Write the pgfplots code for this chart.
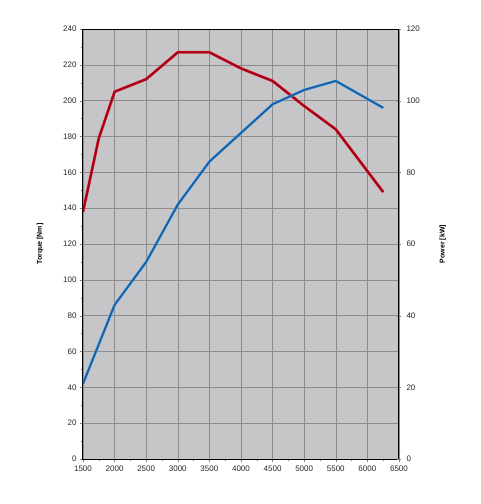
\documentclass[border=0pt]{standalone}
\usepackage{pgfplots}
\pgfplotsset{compat=1.18}
\usepackage{fontspec}
\setmainfont{Liberation Sans}
\definecolor{bgGray}{RGB}{198,198,200}
\definecolor{gridGray}{RGB}{140,140,140}
\definecolor{torqueRed}{RGB}{160,0,25}
\definecolor{torqueRedEdge}{RGB}{225,40,50}
\definecolor{powerBlue}{RGB}{20,95,165}
\definecolor{powerBlueEdge}{RGB}{80,160,225}
\begin{document}
\begin{tikzpicture}
\pgfplotsset{
  common/.style={
    scale only axis, width=316pt, height=430pt,
    at={(0,0)}, anchor=south west,
    xmin=1500, xmax=6500,
    xtick={1500,2000,...,6500},
    /pgf/number format/assume math mode=true,
    /pgf/number format/set thousands separator={},
    tick label style={font=\fontsize{8}{10}\selectfont, text=black!85},
    label style={font=\bfseries\fontsize{7}{9}\selectfont},
  }
}
\begin{axis}[common,
  axis background/.style={fill=bgGray},
  ymin=0, ymax=240, ytick={0,20,...,240},
  minor x tick num=1, minor y tick num=1,
  tick align=outside,
  grid=major,
  major grid style={gridGray, line width=0.45pt},
  axis line style={black, line width=1pt},
  major tick length=3pt, minor tick length=2pt,
  xtick pos=bottom, ytick pos=left,
  ylabel={Torque [Nm]},
  ylabel style={at={(axis description cs:-0.136,0.5)}, anchor=center, rotate=0},
]
\addplot[torqueRedEdge, line width=2.8pt, line join=round, forget plot] coordinates {
(1500,138) (1750,179) (2000,205) (2500,212) (3000,227) (3500,227)
(4000,218) (4500,211) (5000,197) (5500,184) (6250,149)
};
\addplot[torqueRed, line width=1.8pt, line join=round] coordinates {
(1500,138) (1750,179) (2000,205) (2500,212) (3000,227) (3500,227)
(4000,218) (4500,211) (5000,197) (5500,184) (6250,149)
};
\end{axis}
\begin{axis}[common,
  axis x line=none,
  axis y line*=right,
  ymin=0, ymax=120, ytick={0,20,...,120},
  ytick pos=right,
  tick align=center,
  major tick length=4pt,
  axis line style={black, line width=1pt},
  ylabel={Power [kW]},
  ylabel style={at={(axis description cs:1.139,0.5)}, anchor=center, rotate=0},
  yticklabel style={xshift=2pt},
]
\addplot[powerBlueEdge, line width=2.6pt, line join=round, forget plot] coordinates {
(1500,21) (2000,43) (2500,55) (3000,71) (3500,83)
(4000,91) (4500,99) (5000,103) (5500,105.5) (6250,98)
};
\addplot[powerBlue, line width=1.7pt, line join=round] coordinates {
(1500,21) (2000,43) (2500,55) (3000,71) (3500,83)
(4000,91) (4500,99) (5000,103) (5500,105.5) (6250,98)
};
\end{axis}
\draw[black, line width=0.8pt] (0,430pt) -- (316pt,430pt);
\path[use as bounding box] (-83pt,-45pt) rectangle (397pt,459pt);
\end{tikzpicture}
\end{document}
